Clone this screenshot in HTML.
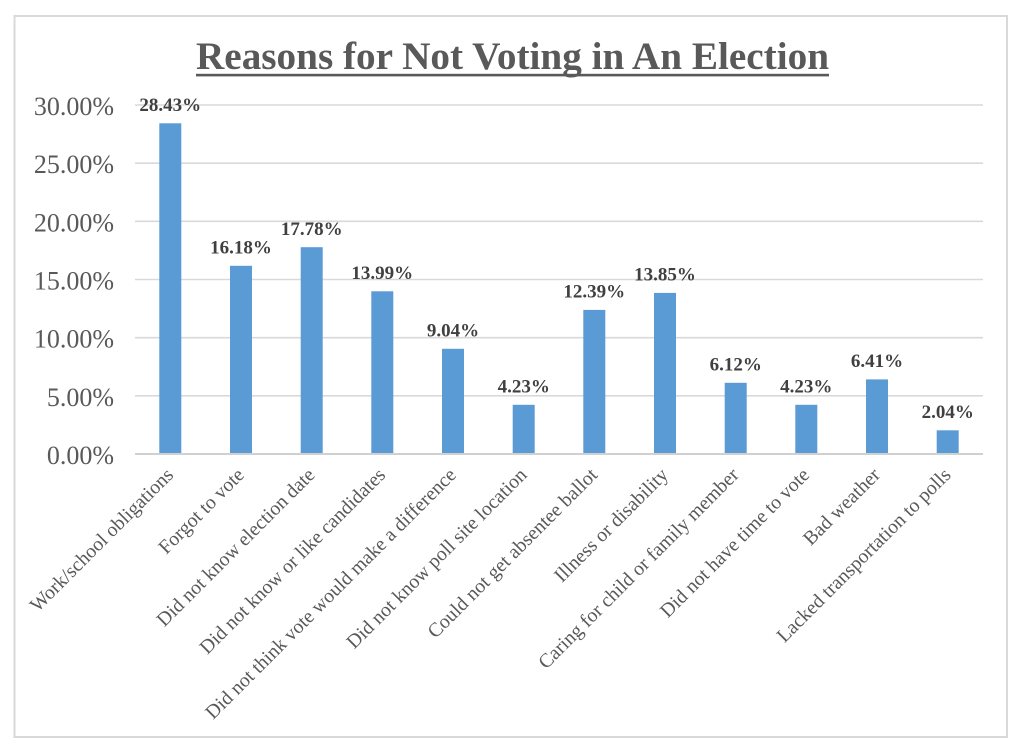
<!DOCTYPE html>
<html>
<head>
<meta charset="utf-8">
<style>
html,body{margin:0;padding:0;background:#fff;}
svg{display:block;}
text{font-family:"Liberation Serif","Times New Roman",serif;}
</style>
</head>
<body>
<svg width="1024" height="753" viewBox="0 0 1024 753" xmlns="http://www.w3.org/2000/svg">
<rect x="0" y="0" width="1024" height="753" fill="#fff"/>
<rect x="14.5" y="16" width="992.5" height="721" fill="none" stroke="#d9d9d9" stroke-width="2"/>
<!-- title -->
<text x="512.5" y="69" text-anchor="middle" font-size="38.8" font-weight="bold" fill="#595959" textLength="633" lengthAdjust="spacingAndGlyphs">Reasons for Not Voting in An Election</text>
<rect x="196" y="73.8" width="633" height="2.6" fill="#595959"/>
<!-- gridlines -->
<g stroke="#d9d9d9" stroke-width="1.6">
<line x1="135" y1="105" x2="983" y2="105"/>
<line x1="135" y1="163.2" x2="983" y2="163.2"/>
<line x1="135" y1="221.3" x2="983" y2="221.3"/>
<line x1="135" y1="279.5" x2="983" y2="279.5"/>
<line x1="135" y1="337.7" x2="983" y2="337.7"/>
<line x1="135" y1="395.8" x2="983" y2="395.8"/>
</g>
<!-- y tick labels -->
<g font-size="26" fill="#595959" text-anchor="end">
<text x="114" y="115">30.00%</text>
<text x="114" y="173.2">25.00%</text>
<text x="114" y="231.3">20.00%</text>
<text x="114" y="289.5">15.00%</text>
<text x="114" y="347.7">10.00%</text>
<text x="114" y="405.8">5.00%</text>
<text x="114" y="464">0.00%</text>
</g>
<!-- bars -->
<g fill="#5b9bd5">
<rect x="159.3" y="123.3" width="22" height="330.7"/>
<rect x="230.0" y="265.8" width="22" height="188.2"/>
<rect x="300.7" y="247.2" width="22" height="206.8"/>
<rect x="371.3" y="291.3" width="22" height="162.7"/>
<rect x="442.0" y="348.8" width="22" height="105.2"/>
<rect x="512.7" y="404.8" width="22" height="49.2"/>
<rect x="583.3" y="309.9" width="22" height="144.1"/>
<rect x="654.0" y="292.9" width="22" height="161.1"/>
<rect x="724.7" y="382.8" width="22" height="71.2"/>
<rect x="795.3" y="404.8" width="22" height="49.2"/>
<rect x="866.0" y="379.4" width="22" height="74.6"/>
<rect x="936.7" y="430.3" width="22" height="23.7"/>
</g>
<!-- axis line -->
<line x1="135" y1="454" x2="983" y2="454" stroke="#d0d0d0" stroke-width="2"/>
<!-- data labels -->
<g font-size="19" font-weight="bold" fill="#404040" text-anchor="middle">
<text x="170.3" y="111">28.43%</text>
<text x="241.0" y="253.5">16.18%</text>
<text x="311.7" y="234.9">17.78%</text>
<text x="382.3" y="279">13.99%</text>
<text x="453.0" y="336.5">9.04%</text>
<text x="523.7" y="392.5">4.23%</text>
<text x="594.3" y="297.6">12.39%</text>
<text x="665.0" y="280.6">13.85%</text>
<text x="735.7" y="370.5">6.12%</text>
<text x="806.3" y="392.5">4.23%</text>
<text x="877.0" y="367.1">6.41%</text>
<text x="947.7" y="418">2.04%</text>
</g>
<!-- category labels -->
<g font-size="19.8" fill="#595959" text-anchor="end">
<text transform="translate(174.5,476) rotate(-45)">Work/school obligations</text>
<text transform="translate(245.2,476) rotate(-45)">Forgot to vote</text>
<text transform="translate(315.9,476) rotate(-45)">Did not know election date</text>
<text transform="translate(386.5,476) rotate(-45)">Did not know or like candidates</text>
<text transform="translate(457.2,476) rotate(-45)">Did not think vote would make a difference</text>
<text transform="translate(527.9,476) rotate(-45)">Did not know poll site location</text>
<text transform="translate(598.5,476) rotate(-45)">Could not get absentee ballot</text>
<text transform="translate(669.2,476) rotate(-45)">Illness or disability</text>
<text transform="translate(739.9,476) rotate(-45)">Caring for child or family member</text>
<text transform="translate(810.5,476) rotate(-45)">Did not have time to vote</text>
<text transform="translate(881.2,476) rotate(-45)">Bad weather</text>
<text transform="translate(951.9,476) rotate(-45)">Lacked transportation to polls</text>
</g>
</svg>
</body>
</html>
